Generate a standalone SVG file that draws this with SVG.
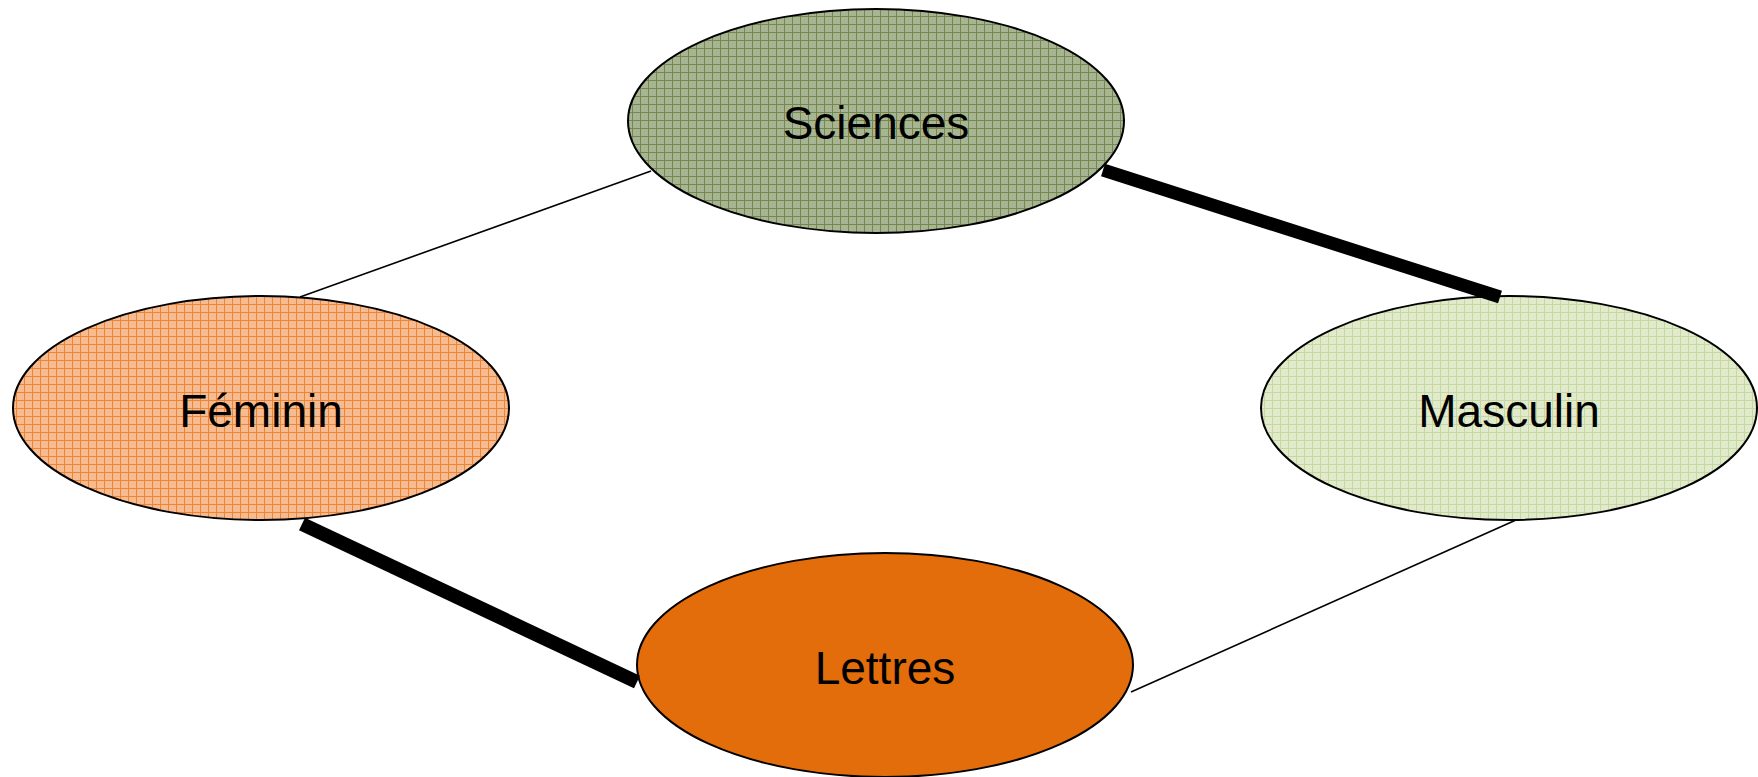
<svg xmlns="http://www.w3.org/2000/svg" width="1758" height="777" viewBox="0 0 1758 777">
<defs>
<pattern id="pSci" width="8" height="8" patternUnits="userSpaceOnUse">
<rect width="8" height="8" fill="#a8b592"/>
<rect x="0" y="0" width="8" height="1" fill="#75874f"/>
<rect x="0" y="0" width="1" height="8" fill="#75874f"/>
</pattern>
<pattern id="pFem" width="8" height="8" patternUnits="userSpaceOnUse">
<rect width="8" height="8" fill="#f6bb90"/>
<rect x="0" y="0" width="8" height="1" fill="#ee8535"/>
<rect x="0" y="0" width="1" height="8" fill="#ee8535"/>
</pattern>
<pattern id="pMas" width="8" height="8" patternUnits="userSpaceOnUse">
<rect width="8" height="8" fill="#e1eacb"/>
<rect x="0" y="0" width="8" height="1" fill="#c6d8a1"/>
<rect x="0" y="0" width="1" height="8" fill="#c6d8a1"/>
</pattern>
<style>
.node ellipse{stroke:#000;stroke-width:2}
.node text{font-family:"Liberation Sans",Arial,sans-serif;font-size:46px;fill:#000;text-anchor:middle}
.thin{stroke:#000;stroke-width:1.6;fill:none}
.thick{stroke:#000;stroke-width:13;fill:none;stroke-linecap:butt}
</style>
</defs>
<rect width="1758" height="777" fill="#fff"/>
<g id="sciences" class="node">
<ellipse cx="876" cy="121" rx="248" ry="112" fill="url(#pSci)"/>
<text x="876" y="139">Sciences</text>
</g>
<g id="feminin" class="node">
<ellipse cx="261" cy="408" rx="248" ry="112" fill="url(#pFem)"/>
<text x="261" y="427">Féminin</text>
</g>
<g id="masculin" class="node">
<ellipse cx="1509" cy="408" rx="248" ry="112" fill="url(#pMas)"/>
<text x="1509" y="427">Masculin</text>
</g>
<g id="lettres" class="node">
<ellipse cx="885" cy="665" rx="248" ry="112" fill="#e36c0b"/>
<text x="885" y="684">Lettres</text>
</g>
<g id="connectors">
<line class="thin" x1="651" y1="171" x2="300" y2="297"/>
<line class="thin" x1="1516" y1="520" x2="1131" y2="692"/>
<line class="thick" x1="1103" y1="170" x2="1500" y2="297"/>
<line class="thick" style="stroke-width:14" x1="302" y1="524" x2="637" y2="682"/>
</g>
</svg>
